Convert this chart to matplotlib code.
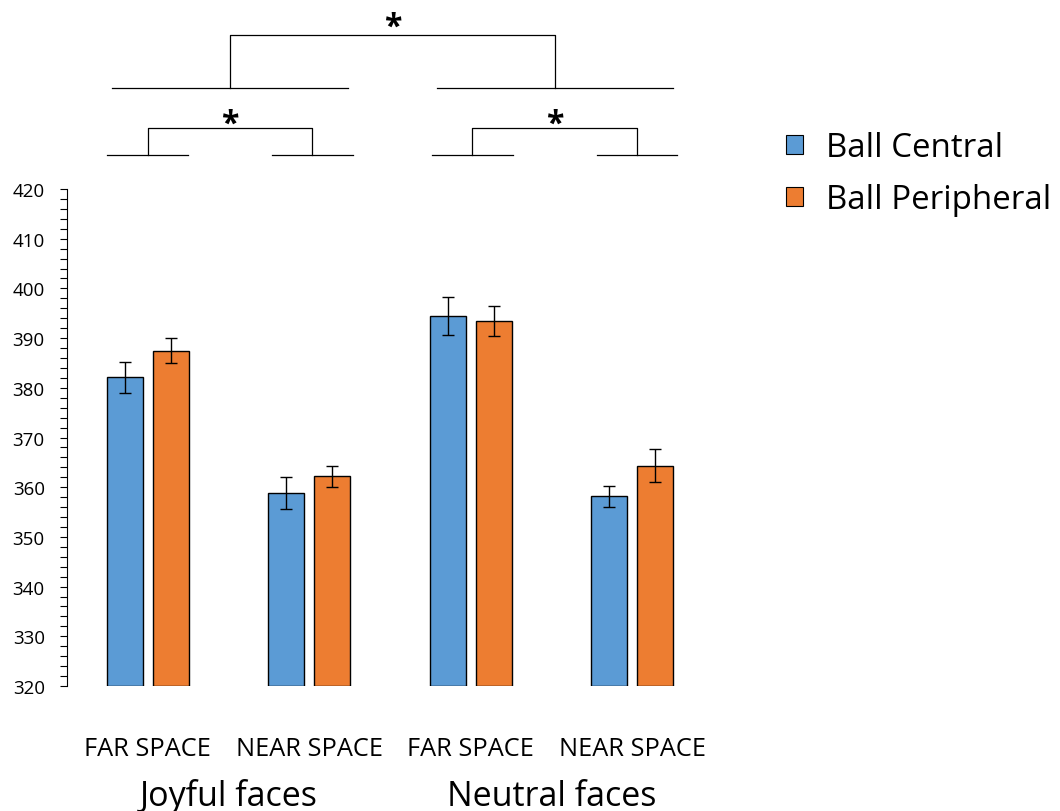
import numpy as np
import matplotlib.pyplot as plt
from matplotlib.patches import Patch

plt.rcParams['font.family'] = ['Open Sans', 'DejaVu Sans']

# Mean reaction times (ms) and standard errors per condition
spaces = ["FAR SPACE", "NEAR SPACE", "FAR SPACE", "NEAR SPACE"]
faces = ["Joyful faces", "Neutral faces"]
central = [382.1, 358.9, 394.4, 358.2]
central_err = [3.1, 3.2, 3.8, 2.1]
peripheral = [387.5, 362.2, 393.5, 364.3]
peripheral_err = [2.6, 2.1, 3.0, 3.3]

BLUE = "#5B9BD5"
ORANGE = "#ED7D31"

fig = plt.figure(figsize=(10.6, 8.12), dpi=100)
ax = fig.add_axes([67 / 1060, 1 - 687 / 812, (713 - 67) / 1060, (687 - 190) / 812])

x = np.arange(len(spaces))
w = 0.224
off = 0.143
base = 320

ax.bar(x - off, np.array(central) - base, w, bottom=base, color=BLUE,
       edgecolor="black", linewidth=1)
ax.bar(x + off, np.array(peripheral) - base, w, bottom=base, color=ORANGE,
       edgecolor="black", linewidth=1)
ax.errorbar(x - off, central, yerr=central_err, fmt="none", ecolor="black",
            elinewidth=1, capsize=4, capthick=1)
ax.errorbar(x + off, peripheral, yerr=peripheral_err, fmt="none", ecolor="black",
            elinewidth=1, capsize=4, capthick=1)

ax.set_xlim(-0.5, 3.5)
ax.set_ylim(320, 420)
ax.set_yticks(np.arange(320, 421, 10))
ax.set_yticks(np.arange(320, 421, 2), minor=True)
ax.tick_params(axis="y", which="both", direction="out", length=5, width=0.8,
               labelsize=13.5, pad=11, colors="black")
ax.tick_params(axis="x", bottom=False, labelbottom=False)
for s in ("top", "right", "bottom"):
    ax.spines[s].set_visible(False)
ax.spines["left"].set_linewidth(0.8)

tr = ax.get_xaxis_transform()


def yfrac(py):
    # pixel row in the figure -> fraction of the axes height
    return (687 - py) / 497


# Condition labels below the bars
for xi, lab in zip(x, spaces):
    ax.text(xi, yfrac(756), lab, transform=tr, ha="center", va="baseline",
            fontsize=18.3)
for gi, lab in enumerate(faces):
    ax.text(2 * gi + 0.5, yfrac(806), lab, transform=tr, ha="center",
            va="baseline", fontsize=24.5)

# Significance brackets above the plot
line_kw = dict(color="black", linewidth=0.9, clip_on=False, transform=tr)
star_kw = dict(transform=tr, ha="center", va="center", fontsize=23,
               fontweight="bold")

drops = x + np.array([0.0, 0.02, 0.01, 0.03])
half = 0.25
for d in drops:
    ax.plot([d - half, d + half], [yfrac(156)] * 2, **line_kw)

upper = []
for g in range(2):
    a, b = drops[2 * g], drops[2 * g + 1]
    ax.plot([a, a, b, b], [yfrac(156), yfrac(129), yfrac(129), yfrac(156)], **line_kw)
    ax.text((a + b) / 2, yfrac(125), "*", **star_kw)
    mid = (a + b) / 2
    upper.append(mid)
    ax.plot([mid - 0.73, mid + 0.73], [yfrac(89)] * 2, **line_kw)

ax.plot([upper[0], upper[0], upper[1], upper[1]],
        [yfrac(89), yfrac(36), yfrac(36), yfrac(89)], **line_kw)
ax.text(sum(upper) / 2, yfrac(28), "*", **star_kw)

handles = [Patch(facecolor=BLUE, edgecolor="black", linewidth=0.8, label="Ball Central"),
           Patch(facecolor=ORANGE, edgecolor="black", linewidth=0.8, label="Ball Peripheral")]
fig.legend(handles=handles, loc="upper left", bbox_to_anchor=(786 / 1060, 1 - 132 / 812),
           frameon=False, fontsize=23.8, handlelength=0.52, handleheight=0.52,
           handletextpad=0.68, labelspacing=0.58, borderpad=0, borderaxespad=0)

fig.savefig("out.png", dpi=100)
